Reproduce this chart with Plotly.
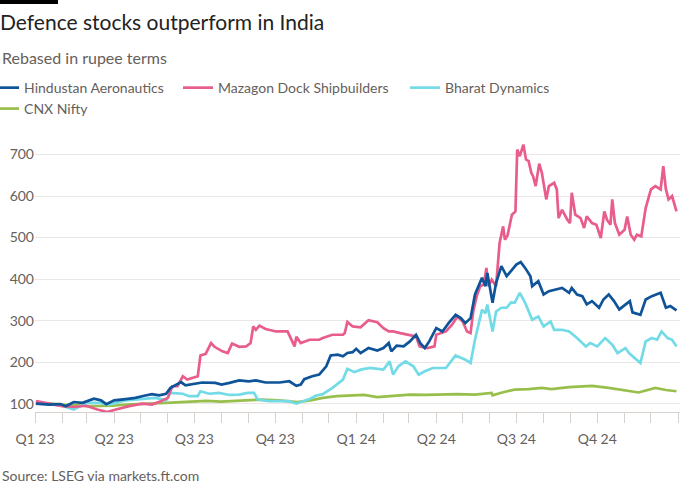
import plotly.graph_objects as go

# rebased to 100 at start of 2023
hal_dates = [
    "2023-01-02", "2023-01-17", "2023-01-30", "2023-02-05", "2023-02-14", "2023-02-24",
    "2023-03-09", "2023-03-17", "2023-03-23", "2023-04-01", "2023-04-14", "2023-04-25",
    "2023-05-05", "2023-05-14", "2023-05-22", "2023-05-30", "2023-06-04", "2023-06-10",
    "2023-06-16", "2023-06-21", "2023-07-01", "2023-07-10", "2023-07-25", "2023-08-01",
    "2023-08-10", "2023-08-21", "2023-09-01", "2023-09-09", "2023-09-20", "2023-10-06",
    "2023-10-17", "2023-10-25", "2023-10-30", "2023-11-03", "2023-11-12", "2023-11-20",
    "2023-11-28", "2023-12-03", "2023-12-11", "2023-12-17", "2023-12-22", "2023-12-28",
    "2024-01-01", "2024-01-06", "2024-01-15", "2024-01-25", "2024-02-01", "2024-02-07",
    "2024-02-10", "2024-02-16", "2024-02-24", "2024-03-02", "2024-03-09", "2024-03-14",
    "2024-03-19", "2024-03-24", "2024-04-01", "2024-04-08", "2024-04-15", "2024-04-23",
    "2024-04-29", "2024-05-04", "2024-05-10", "2024-05-15", "2024-05-23", "2024-05-27",
    "2024-05-29", "2024-06-04", "2024-06-08", "2024-06-14", "2024-06-20", "2024-06-25",
    "2024-07-01", "2024-07-06", "2024-07-11", "2024-07-17", "2024-07-19", "2024-07-26",
    "2024-08-01", "2024-08-07", "2024-08-14", "2024-08-22", "2024-08-30", "2024-09-02",
    "2024-09-08", "2024-09-14", "2024-09-19", "2024-09-25", "2024-10-03", "2024-10-08",
    "2024-10-14", "2024-10-20", "2024-10-26", "2024-11-04", "2024-11-07", "2024-11-10",
    "2024-11-19", "2024-11-25", "2024-12-02", "2024-12-12", "2024-12-18", "2024-12-23",
    "2024-12-30",
]
hal_values = [
    100, 98, 99, 94, 104, 102,
    112, 108, 99, 108, 111, 114,
    119, 123, 120, 124, 138, 146,
    152, 144, 148, 151, 150, 146,
    150, 156, 154, 156, 151, 151,
    154, 143, 146, 159, 166, 170,
    190, 216, 218, 214, 222, 224,
    232, 222, 234, 228, 234, 246,
    226, 240, 238, 250, 266, 245,
    234, 250, 282, 274, 294, 314,
    306, 294, 306, 363, 403, 383,
    415, 343, 391, 431, 407, 419,
    435, 441, 427, 407, 383, 395,
    363, 371, 375, 379, 367, 379,
    363, 359, 339, 347, 331, 351,
    363, 347, 327, 341, 347, 320,
    314, 351, 359, 367, 331, 335,
    325,
]

mazagon_dates = [
    "2023-01-02", "2023-01-17", "2023-02-01", "2023-02-14", "2023-02-28", "2023-03-13",
    "2023-03-24", "2023-04-03", "2023-04-18", "2023-05-03", "2023-05-14", "2023-05-24",
    "2023-06-01", "2023-06-06", "2023-06-12", "2023-06-18", "2023-06-23", "2023-07-05",
    "2023-07-08", "2023-07-14", "2023-07-20", "2023-07-24", "2023-07-27", "2023-08-02",
    "2023-08-08", "2023-08-13", "2023-08-21", "2023-08-29", "2023-09-03", "2023-09-06",
    "2023-09-09", "2023-09-13", "2023-09-20", "2023-10-02", "2023-10-15", "2023-10-19",
    "2023-10-23", "2023-10-25", "2023-10-30", "2023-11-09", "2023-11-20", "2023-11-24",
    "2023-12-05", "2023-12-17", "2023-12-19", "2023-12-22", "2023-12-28", "2024-01-06",
    "2024-01-15", "2024-01-25", "2024-02-01", "2024-02-07", "2024-02-12", "2024-02-20",
    "2024-03-02", "2024-03-09", "2024-03-13", "2024-03-22", "2024-03-30", "2024-04-01",
    "2024-04-12", "2024-04-19", "2024-04-25", "2024-05-01", "2024-05-06", "2024-05-10",
    "2024-05-13", "2024-05-17", "2024-05-21", "2024-05-25", "2024-05-28", "2024-05-30",
    "2024-06-03", "2024-06-08", "2024-06-12", "2024-06-16", "2024-06-18", "2024-06-21",
    "2024-06-26", "2024-06-30", "2024-07-02", "2024-07-05", "2024-07-09", "2024-07-12",
    "2024-07-15", "2024-07-18", "2024-07-20", "2024-07-23", "2024-07-27", "2024-07-30",
    "2024-08-04", "2024-08-07", "2024-08-13", "2024-08-16", "2024-08-18", "2024-08-22",
    "2024-08-28", "2024-08-31", "2024-09-02", "2024-09-06", "2024-09-12", "2024-09-16",
    "2024-09-19", "2024-09-25", "2024-09-30", "2024-10-05", "2024-10-09", "2024-10-12",
    "2024-10-16", "2024-10-18", "2024-10-21", "2024-10-26", "2024-11-01", "2024-11-04",
    "2024-11-08", "2024-11-12", "2024-11-15", "2024-11-20", "2024-11-25", "2024-12-01",
    "2024-12-06", "2024-12-12", "2024-12-15", "2024-12-18", "2024-12-21", "2024-12-25",
    "2024-12-30",
]
mazagon_values = [
    106, 100, 94, 92, 95, 86,
    80, 86, 94, 100, 98, 106,
    114, 142, 142, 166, 158, 166,
    216, 220, 246, 237, 234, 226,
    222, 245, 237, 238, 246, 286,
    278, 288, 280, 274, 274, 254,
    238, 261, 246, 254, 254, 258,
    266, 266, 270, 297, 286, 284,
    301, 296, 282, 274, 274, 270,
    266, 262, 238, 234, 238, 266,
    274, 290, 310, 298, 274, 270,
    322, 359, 383, 387, 427, 383,
    399, 383, 487, 527, 495, 505,
    555, 563, 712, 696, 724, 688,
    684, 656, 648, 624, 678, 656,
    592, 624, 632, 616, 547, 567,
    543, 535, 608, 555, 547, 523,
    551, 535, 531, 499, 563, 543,
    531, 592, 535, 507, 519, 551,
    507, 495, 507, 503, 571, 616,
    624, 616, 672, 616, 592, 600,
    563,
]

bharat_dates = [
    "2023-01-02", "2023-02-01", "2023-02-14", "2023-03-01", "2023-03-15", "2023-03-26",
    "2023-04-14", "2023-05-03", "2023-05-18", "2023-05-30", "2023-06-04", "2023-06-18",
    "2023-06-25", "2023-07-05", "2023-07-08", "2023-07-18", "2023-07-29", "2023-08-10",
    "2023-08-21", "2023-08-31", "2023-09-07", "2023-09-11", "2023-09-24", "2023-10-06",
    "2023-10-17", "2023-10-25", "2023-11-01", "2023-11-09", "2023-11-16", "2023-11-24",
    "2023-12-05", "2023-12-17", "2023-12-22", "2023-12-30", "2024-01-06", "2024-01-17",
    "2024-02-01", "2024-02-08", "2024-02-12", "2024-02-18", "2024-02-26", "2024-03-06",
    "2024-03-12", "2024-03-19", "2024-03-28", "2024-04-12", "2024-04-23", "2024-05-04",
    "2024-05-10", "2024-05-15", "2024-05-23", "2024-05-27", "2024-05-29", "2024-06-04",
    "2024-06-08", "2024-06-14", "2024-06-20", "2024-06-25", "2024-06-29", "2024-07-05",
    "2024-07-11", "2024-07-19", "2024-07-26", "2024-08-01", "2024-08-09", "2024-08-13",
    "2024-08-22", "2024-08-30", "2024-09-08", "2024-09-18", "2024-09-23", "2024-10-01",
    "2024-10-10", "2024-10-18", "2024-10-24", "2024-11-02", "2024-11-06", "2024-11-13",
    "2024-11-19", "2024-11-25", "2024-12-02", "2024-12-08", "2024-12-13", "2024-12-20",
    "2024-12-25", "2024-12-30",
]
bharat_values = [
    102, 95, 86, 102, 102, 98,
    108, 111, 114, 108, 126, 124,
    118, 118, 130, 124, 126, 121,
    122, 126, 126, 110, 106, 106,
    106, 100, 106, 111, 119, 123,
    138, 158, 184, 176, 182, 186,
    182, 202, 170, 190, 202, 190,
    170, 178, 186, 186, 216, 206,
    198, 254, 326, 318, 339, 274,
    322, 331, 331, 344, 343, 367,
    343, 302, 310, 286, 298, 278,
    278, 274, 258, 238, 246, 238,
    258, 242, 222, 234, 222, 208,
    198, 250, 258, 254, 274, 258,
    254, 238,
]

nifty_dates = [
    "2023-01-02", "2023-01-20", "2023-02-01", "2023-02-20", "2023-03-01", "2023-03-20",
    "2023-03-30", "2023-04-15", "2023-04-29", "2023-05-15", "2023-05-30", "2023-06-15",
    "2023-06-30", "2023-07-15", "2023-07-31", "2023-08-20", "2023-09-15", "2023-10-05",
    "2023-10-26", "2023-11-10", "2023-11-24", "2023-12-10", "2023-12-24", "2024-01-10",
    "2024-01-25", "2024-02-10", "2024-03-02", "2024-03-20", "2024-04-08", "2024-04-25",
    "2024-05-15", "2024-06-03", "2024-06-04", "2024-06-15", "2024-06-29", "2024-07-15",
    "2024-07-30", "2024-08-10", "2024-08-30", "2024-09-25", "2024-10-14", "2024-10-30",
    "2024-11-17", "2024-12-06", "2024-12-18", "2024-12-30",
]
nifty_values = [
    100, 100, 98, 97, 94, 95,
    95, 98, 100, 101, 102, 104,
    106, 107, 105, 107, 110, 108,
    104, 108, 114, 118, 120, 121,
    116, 119, 122, 121, 122, 123,
    122, 126, 120, 127, 134, 135,
    138, 135, 140, 143, 138, 133,
    127, 138, 133, 130,
]

quarter_dates = ["2023-01-01", "2023-04-01", "2023-07-01", "2023-10-01",
                 "2024-01-01", "2024-04-01", "2024-07-01", "2024-10-01"]
quarter_labels = ["Q1 23", "Q2 23", "Q3 23", "Q4 23", "Q1 24", "Q2 24", "Q3 24", "Q4 24"]

FONT = "Lato"
GREY = "#66605c"
LEGEND_FONT = dict(family=FONT, size=14, color=GREY)
LINE_W = 2.7

fig = go.Figure()
# drawn bottom to top; each series gets its own legend box so the
# entries can sit where the FT layout puts them
fig.add_trace(go.Scatter(x=nifty_dates, y=nifty_values, name="CNX Nifty", legend="legend4",
                         mode="lines", line=dict(color="#98bf4c", width=LINE_W)))
fig.add_trace(go.Scatter(x=bharat_dates, y=bharat_values, name="Bharat Dynamics", legend="legend3",
                         mode="lines", line=dict(color="#72dbe6", width=LINE_W)))
fig.add_trace(go.Scatter(x=mazagon_dates, y=mazagon_values, name="Mazagon Dock Shipbuilders",
                         legend="legend2", mode="lines", line=dict(color="#e95d8c", width=LINE_W)))
fig.add_trace(go.Scatter(x=hal_dates, y=hal_values, name="Hindustan Aeronautics", legend="legend",
                         mode="lines", line=dict(color="#0f5499", width=LINE_W)))
fig.update_traces(showlegend=True)

def legend_box(x, y):
    return dict(orientation="h", x=x, xanchor="left", y=y, yanchor="middle", visible=True,
                font=LEGEND_FONT, bgcolor="rgba(0,0,0,0)", borderwidth=0)

fig.update_layout(
    width=700, height=500,
    showlegend=True,
    margin=dict(l=35, r=20, t=140, b=88, autoexpand=False),
    paper_bgcolor="white", plot_bgcolor="white",
    font=dict(family=FONT, size=14, color=GREY),
    hovermode=False,
    title=dict(text="Defence stocks outperform in India", x=0.0, xanchor="left",
               xref="container", y=0.955, yanchor="middle", yref="container",
               pad=dict(l=0, r=0, t=0, b=0),
               font=dict(family=FONT, size=21, color="#222222")),
    legend=legend_box(-0.079, 1.191),
    legend2=legend_box(0.2217, 1.191),
    legend3=legend_box(0.5736, 1.191),
    legend4=legend_box(-0.079, 1.114),
    xaxis=dict(
        type="date", range=["2023-01-01", "2025-01-03"],
        showgrid=False, showline=True, linecolor="#d6d1cc", linewidth=1,
        tickmode="array", tickvals=quarter_dates, ticktext=quarter_labels,
        ticks="outside", ticklen=10, tickcolor="#d6d1cc", tickwidth=1,
        ticklabelstandoff=4,
        minor=dict(ticks="outside", ticklen=10, tickcolor="#d6d1cc", tickwidth=1,
                   tickmode="linear", tick0="2023-01-01", dtick="M1", showgrid=False),
        tickfont=dict(size=14, color=GREY),
    ),
    yaxis=dict(
        range=[80, 735], tick0=0, dtick=100,
        showgrid=True, gridcolor="#ebe7e4", gridwidth=1,
        zeroline=False, showline=False, ticks="",
        tickfont=dict(size=14, color=GREY),
    ),
    annotations=[
        dict(text="Rebased in rupee terms", xref="paper", yref="paper",
             x=-0.0543, y=1.305, xanchor="left", yanchor="middle", showarrow=False,
             font=dict(family=FONT, size=16, color=GREY)),
        dict(text="Source: LSEG via markets.ft.com", xref="paper", yref="paper",
             x=-0.0543, y=-0.235, xanchor="left", yanchor="middle", showarrow=False,
             font=dict(family=FONT, size=14, color=GREY)),
    ],
    shapes=[
        dict(type="rect", xref="paper", yref="paper", x0=-0.0543, x1=0.0357,
             y0=1.5, y1=1.52, fillcolor="black", line=dict(width=0)),
    ],
)

# the page body has an 8px default margin; drop it so the figure sits at 0,0
fig.write_html("out.html", config={"displayModeBar": False},
               post_script="document.body.style.margin = '0';")
